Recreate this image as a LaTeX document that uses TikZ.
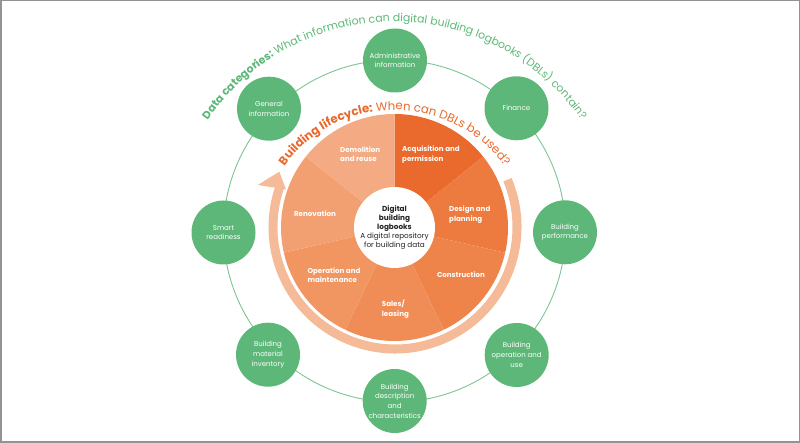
\documentclass[tikz,border=0pt]{standalone}
\usepackage{fontspec}
\setmainfont{Poppins}
\usetikzlibrary{decorations.text,calc}
\definecolor{gr}{RGB}{93,183,120}
\definecolor{ringc}{RGB}{125,196,148}
\definecolor{oA}{RGB}{234,106,45}
\definecolor{oB}{RGB}{237,122,62}
\definecolor{oC}{RGB}{239,132,74}
\definecolor{oD}{RGB}{240,141,86}
\definecolor{oE}{RGB}{241,149,97}
\definecolor{oF}{RGB}{242,160,114}
\definecolor{oG}{RGB}{244,170,130}
\definecolor{arrc}{RGB}{245,186,152}
\definecolor{otxt}{RGB}{232,105,44}
\definecolor{ctxt}{RGB}{35,35,35}
\begin{document}
\begin{tikzpicture}[x=1pt,y=1pt,
  cat/.style={circle, fill=gr, minimum size=64pt, inner sep=0pt, text=white, align=center, font=\fontsize{7}{9.7}\selectfont},
  seglabel/.style={text=white, align=left, font=\fontsize{7.1}{9.3}\selectfont\bfseries, inner sep=0pt},
]
\useasboundingbox (0,0) rectangle (800,443);
\draw[gray!85, line width=1.5pt] (0.75,0.75) rectangle (799.25,442.25);

% outer ring
\coordinate (RC) at (394.5,212);
\draw[ringc, line width=0.9pt] (RC) circle[radius=171];

% pie
\coordinate (PC) at (394.5,215.5);
\foreach \i/\c in {0/oA,1/oB,2/oC,3/oD,4/oE,5/oF,6/oG}{
  \pgfmathsetmacro{\sa}{90-\i*360/7}
  \pgfmathsetmacro{\ea}{90-(\i+1)*360/7}
  \fill[\c] (PC) -- ($(PC)+(\sa:113.5)$) arc[start angle=\sa, end angle=\ea, radius=113.5] -- cycle;
}

% arrow arc
\coordinate (AC) at (395,216);
\fill[arrc] ($(AC)+(22.8:126.5)$) arc[start angle=22.8, end angle=-199.2, radius=126.5]
  -- ($(AC)+(-199.2:117.5)$) arc[start angle=-199.2, end angle=22.8, radius=117.5] -- cycle;
\coordinate (hl) at (257.7,258);
\coordinate (ht) at (279.3,271.3);
\coordinate (hr) at (286,253.5);
\fill[arrc] (hl) -- (ht) -- (hr) -- cycle;

% centre
\node[circle, fill=white, minimum size=76pt, inner sep=0pt, align=center, text=ctxt,
  font=\fontsize{7.3}{9}\selectfont] (core) at (PC)
  {\textbf{Digital}\\\textbf{building}\\\textbf{logbooks}\\A digital repository\\for building data};

% segment labels
\node[seglabel, anchor=west] (acq) at (402,288.5) {Acquisition and\\permission};
\node[seglabel, anchor=west] (des) at (449,228.3) {Design and\\planning};
\node[seglabel] (con) at (461,168) {Construction};
\node[seglabel, anchor=west] (sal) at (381.7,134) {Sales/\\leasing};
\node[seglabel, anchor=west] (ope) at (307.3,167.7) {Operation and\\maintenance};
\node[seglabel] (ren) at (315,229.7) {Renovation};
\node[seglabel, anchor=west] (dem) at (340,288.5) {Demolition\\and reuse};

% category circles
\node[cat] (adm) at (395,382.5) {Administrative\\information};
\node[cat] (fin) at (516.5,334.7) {Finance};
\node[cat] (per) at (565,210.7) {Building\\performance};
\node[cat] (opu) at (516.7,88) {Building\\operation and\\use};
\node[cat] (dsc) at (394.7,42) {Building\\description\\and\\characteristics};
\node[cat] (mat) at (268,88.3) {Building\\material\\inventory};
\node[cat] (sma) at (223.5,210.5) {Smart\\readiness};
\node[cat] (gen) at (269,334.3) {General\\information};

% curved titles
\coordinate (OC) at (394.5,197);
\path[decorate, decoration={text along path, text align=center, text color=otxt,
  text={|\fontsize{11.8}{14}\selectfont\bfseries|Building lifecycle:|\fontsize{11.8}{14}\selectfont\mdseries| When can DBLs be used?}}]
  ($(OC)+(165:136)$) arc[start angle=165, end angle=15, radius=136];
\coordinate (GC) at (394.5,195);
\path[decorate, decoration={text along path, text align=center, text color=gr,
  text={|\fontsize{10.9}{13}\selectfont\bfseries|Data categories:|\fontsize{10.9}{13}\selectfont\mdseries| What information can digital building logbooks (DBLs) contain?}}]
  ($(GC)+(165:226.3)$) arc[start angle=165, end angle=15, radius=226.3];
\end{tikzpicture}
\end{document}
